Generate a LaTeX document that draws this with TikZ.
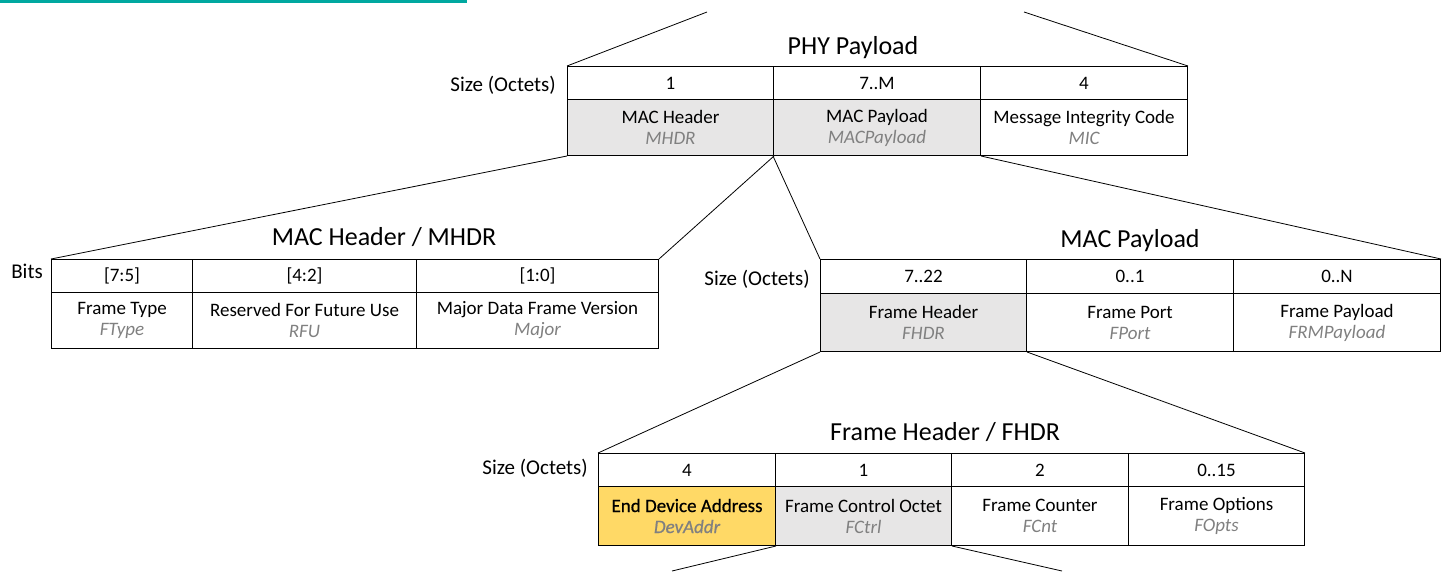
\documentclass[tikz,border=0pt]{standalone}
\usepackage{fontspec}
\setmainfont{Carlito}
\newfontfamily\semib{Carlito}[FakeBold=0.6]
\definecolor{tealbar}{RGB}{0,168,160}
\definecolor{cellgray}{RGB}{231,230,230}
\definecolor{cellyellow}{RGB}{255,217,102}
\definecolor{subgray}{RGB}{128,128,128}
\begin{document}
\begin{tikzpicture}[x=1pt,y=-1pt,
  cellbase/.style={draw=black,line width=1pt,inner sep=0pt,anchor=north west,align=center,font=\fontsize{19}{22}\selectfont},
  sizecell/.style={cellbase,minimum height=33pt},
  namecell/.style={cellbase,minimum height=56pt},
  graycell/.style={fill=cellgray},
  yellowcell/.style={fill=cellyellow},
  rowlabel/.style={anchor=east,inner sep=0pt,font=\fontsize{21}{22}\selectfont},
  tabtitle/.style={anchor=base,inner sep=0pt,font=\fontsize{26}{28}\selectfont},
  link/.style={draw=black,line width=0.8pt}
]
\useasboundingbox (0,0) rectangle (1447,571);
\fill[tealbar] (0,0) rectangle (467,3);

\newcommand{\sbt}[1]{\\[-1pt]\textcolor{subgray}{\itshape #1}}

% PHY payload
\node[tabtitle] (phyt) at (853,54) {PHY Payload};
\node[sizecell,minimum width=206pt] (p1s) at (567,66) {1};
\node[sizecell,minimum width=207pt] (p2s) at (773,66) {7..M};
\node[sizecell,minimum width=207pt] (p3s) at (980,66) {4};
\node[namecell,graycell,minimum width=206pt] (p1) at (567,99) {MAC Header\sbt{MHDR}};
\node[namecell,graycell,minimum width=207pt] (p2) at (773,99) {MAC Payload\sbt{MACPayload}};
\node[namecell,minimum width=207pt] (p3) at (980,99) {Message Integrity Code\sbt{MIC}};
\node[rowlabel] (pl) at (556,85) {Size (Octets)};

% MAC header
\node[tabtitle] (mht) at (384,245) {MAC Header / MHDR};
\node[sizecell,minimum width=141pt] (h1s) at (51,259) {[7:5]};
\node[sizecell,minimum width=224pt] (h2s) at (192,259) {[4:2]};
\node[sizecell,minimum width=242pt] (h3s) at (416,259) {[1:0]};
\node[namecell,minimum width=141pt] (h1) at (51,292) {Frame Type\sbt{FType}};
\node[namecell,minimum width=224pt] (h2) at (192,292) {Reserved For Future Use\sbt{RFU}};
\node[namecell,minimum width=242pt] (h3) at (416,292) {Major Data Frame Version\sbt{Major}};
\node[rowlabel] (hl) at (43,271) {Bits};

% MAC payload
\node[tabtitle] (mpt) at (1130,247) {MAC Payload};
\node[sizecell,minimum width=206pt,minimum height=34pt] (m1s) at (820,259) {7..22};
\node[sizecell,minimum width=207pt,minimum height=34pt] (m2s) at (1026,259) {0..1};
\node[sizecell,minimum width=207pt,minimum height=34pt] (m3s) at (1233,259) {0..N};
\node[namecell,graycell,minimum width=206pt,minimum height=58pt] (m1) at (820,293) {Frame Header\sbt{FHDR}};
\node[namecell,minimum width=207pt,minimum height=58pt] (m2) at (1026,293) {Frame Port\sbt{FPort}};
\node[namecell,minimum width=207pt,minimum height=58pt] (m3) at (1233,293) {Frame Payload\sbt{FRMPayload}};
\node[rowlabel] (ml) at (810,279) {Size (Octets)};

% Frame header
\node[tabtitle] (ft) at (945,440) {Frame Header / FHDR};
\node[sizecell,minimum width=177pt] (f1s) at (598,453) {4};
\node[sizecell,minimum width=176pt] (f2s) at (775,453) {1};
\node[sizecell,minimum width=177pt] (f3s) at (951,453) {2};
\node[sizecell,minimum width=176pt] (f4s) at (1128,453) {0..15};
\node[namecell,yellowcell,minimum width=177pt,minimum height=59pt] (f1) at (598,486) {\semib End Device Address\\[-1pt]\textcolor{subgray}{\semib\itshape DevAddr}};
\node[namecell,graycell,minimum width=176pt,minimum height=59pt] (f2) at (775,486) {Frame Control Octet\sbt{FCtrl}};
\node[namecell,minimum width=177pt,minimum height=59pt] (f3) at (951,486) {Frame Counter\sbt{FCnt}};
\node[namecell,minimum width=176pt,minimum height=59pt] (f4) at (1128,486) {Frame Options\sbt{FOpts}};
\node[rowlabel] (fl) at (588,468) {Size (Octets)};

% connectors
\coordinate (topl) at (707,12);
\coordinate (topr) at (1024,12);
\coordinate (botl) at (672,571);
\coordinate (botr) at (1062,571);
\draw[link] (topl) -- (p1s.north west);
\draw[link] (topr) -- (p3s.north east);
\draw[link] (p1.south west) -- (h1s.north west);
\draw[link] (p1.south east) -- (h3s.north east);
\draw[link] (p2.south west) -- (m1s.north west);
\draw[link] (p2.south east) -- (m3s.north east);
\draw[link] (m1.south west) -- (f1s.north west);
\draw[link] (m1.south east) -- (f4s.north east);
\draw[link] (f1.south east) -- (botl);
\draw[link] (f2.south east) -- (botr);
\end{tikzpicture}
\end{document}
